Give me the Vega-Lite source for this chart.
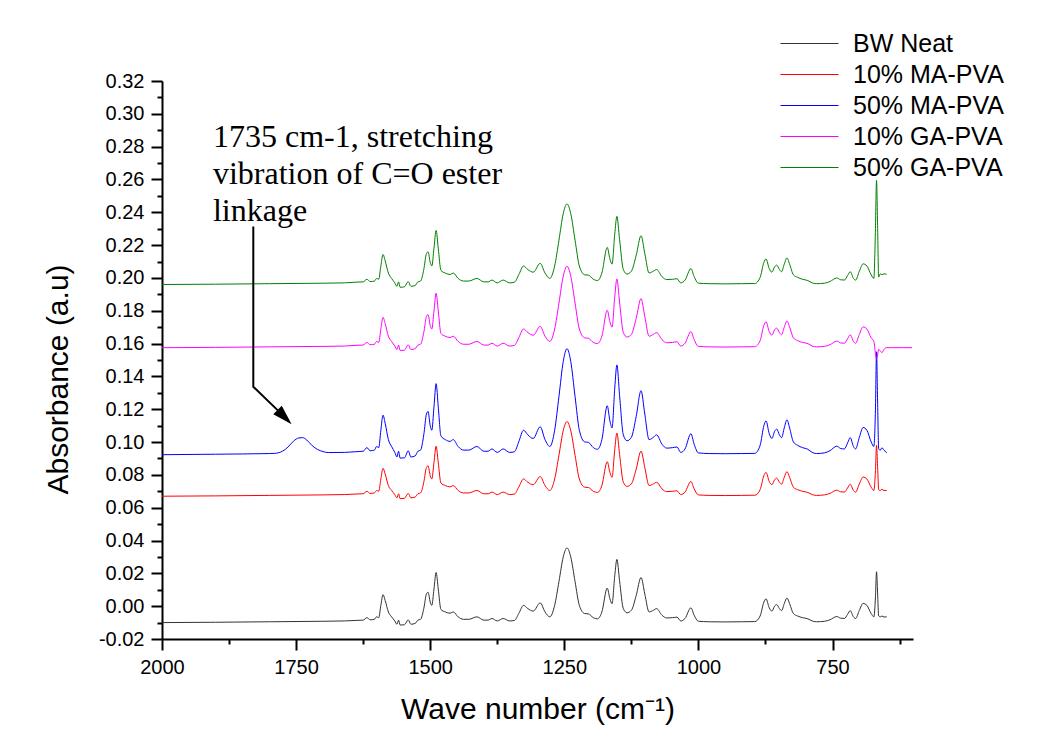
{
"$schema":"https://vega.github.io/schema/vega-lite/v6.json",
"width":751,"height":558,
"autosize":"none",
"padding":{"left":162,"top":81,"right":134,"bottom":101},
"background":"white",
"config":{"view":{"stroke":null},
"axis":{"domainColor":"black","domainWidth":2,"tickColor":"black","tickWidth":2,"labelColor":"black","titleColor":"black","labelFont":"Liberation Sans","titleFont":"Liberation Sans","titleFontWeight":"normal","grid":false,"labelFlush":false,"labelOverlap":false}},
"layer":[
{"data":{"values":[
{"s":"BW Neat","w":2000,"a":-0.0100},{"s":"BW Neat","w":1900,"a":-0.0098},{"s":"BW Neat","w":1800,"a":-0.0095},{"s":"BW Neat","w":1700,"a":-0.0092},{"s":"BW Neat","w":1660,"a":-0.0090},{"s":"BW Neat","w":1640,"a":-0.0087},{"s":"BW Neat","w":1625,"a":-0.0085},{"s":"BW Neat","w":1618,"a":-0.0070},{"s":"BW Neat","w":1612,"a":-0.0083},{"s":"BW Neat","w":1604,"a":-0.0080},{"s":"BW Neat","w":1600,"a":-0.0065},{"s":"BW Neat","w":1596,"a":-0.0070},{"s":"BW Neat","w":1592,"a":0.0005},{"s":"BW Neat","w":1588,"a":0.0070},{"s":"BW Neat","w":1584,"a":0.0035},{"s":"BW Neat","w":1578,"a":-0.0035},{"s":"BW Neat","w":1572,"a":-0.0065},{"s":"BW Neat","w":1566,"a":-0.0090},{"s":"BW Neat","w":1562,"a":-0.0110},{"s":"BW Neat","w":1559,"a":-0.0085},{"s":"BW Neat","w":1556,"a":-0.0115},{"s":"BW Neat","w":1548,"a":-0.0113},{"s":"BW Neat","w":1541,"a":-0.0083},{"s":"BW Neat","w":1536,"a":-0.0110},{"s":"BW Neat","w":1528,"a":-0.0105},{"s":"BW Neat","w":1523,"a":-0.0085},{"s":"BW Neat","w":1518,"a":-0.0080},{"s":"BW Neat","w":1512,"a":-0.0015},{"s":"BW Neat","w":1507,"a":0.0075},{"s":"BW Neat","w":1504,"a":0.0085},{"s":"BW Neat","w":1500,"a":0.0025},{"s":"BW Neat","w":1497,"a":0.0005},{"s":"BW Neat","w":1493,"a":0.0105},{"s":"BW Neat","w":1489,"a":0.0205},{"s":"BW Neat","w":1485,"a":0.0105},{"s":"BW Neat","w":1480,"a":-0.0020},{"s":"BW Neat","w":1472,"a":-0.0035},{"s":"BW Neat","w":1463,"a":-0.0043},{"s":"BW Neat","w":1457,"a":-0.0035},{"s":"BW Neat","w":1448,"a":-0.0065},{"s":"BW Neat","w":1438,"a":-0.0080},{"s":"BW Neat","w":1428,"a":-0.0080},{"s":"BW Neat","w":1413,"a":-0.0065},{"s":"BW Neat","w":1400,"a":-0.0085},{"s":"BW Neat","w":1392,"a":-0.0085},{"s":"BW Neat","w":1385,"a":-0.0075},{"s":"BW Neat","w":1375,"a":-0.0090},{"s":"BW Neat","w":1364,"a":-0.0075},{"s":"BW Neat","w":1352,"a":-0.0090},{"s":"BW Neat","w":1343,"a":-0.0087},{"s":"BW Neat","w":1335,"a":-0.0045},{"s":"BW Neat","w":1326,"a":0.0005},{"s":"BW Neat","w":1318,"a":-0.0015},{"s":"BW Neat","w":1308,"a":-0.0030},{"s":"BW Neat","w":1295,"a":0.0020},{"s":"BW Neat","w":1286,"a":-0.0035},{"s":"BW Neat","w":1277,"a":-0.0065},{"s":"BW Neat","w":1268,"a":0.0005},{"s":"BW Neat","w":1260,"a":0.0150},{"s":"BW Neat","w":1252,"a":0.0300},{"s":"BW Neat","w":1245,"a":0.0355},{"s":"BW Neat","w":1238,"a":0.0300},{"s":"BW Neat","w":1230,"a":0.0150},{"s":"BW Neat","w":1222,"a":0.0005},{"s":"BW Neat","w":1212,"a":-0.0045},{"s":"BW Neat","w":1205,"a":-0.0047},{"s":"BW Neat","w":1196,"a":-0.0070},{"s":"BW Neat","w":1188,"a":-0.0077},{"s":"BW Neat","w":1180,"a":-0.0035},{"s":"BW Neat","w":1170,"a":0.0110},{"s":"BW Neat","w":1165,"a":0.0045},{"s":"BW Neat","w":1161,"a":0.0015},{"s":"BW Neat","w":1156,"a":0.0185},{"s":"BW Neat","w":1152,"a":0.0285},{"s":"BW Neat","w":1147,"a":0.0155},{"s":"BW Neat","w":1140,"a":-0.0015},{"s":"BW Neat","w":1133,"a":-0.0040},{"s":"BW Neat","w":1125,"a":-0.0025},{"s":"BW Neat","w":1116,"a":0.0065},{"s":"BW Neat","w":1107,"a":0.0175},{"s":"BW Neat","w":1100,"a":0.0075},{"s":"BW Neat","w":1092,"a":-0.0035},{"s":"BW Neat","w":1084,"a":-0.0025},{"s":"BW Neat","w":1078,"a":-0.0015},{"s":"BW Neat","w":1068,"a":-0.0055},{"s":"BW Neat","w":1059,"a":-0.0072},{"s":"BW Neat","w":1048,"a":-0.0070},{"s":"BW Neat","w":1040,"a":-0.0067},{"s":"BW Neat","w":1033,"a":-0.0090},{"s":"BW Neat","w":1025,"a":-0.0075},{"s":"BW Neat","w":1014,"a":-0.0010},{"s":"BW Neat","w":1008,"a":-0.0055},{"s":"BW Neat","w":1000,"a":-0.0092},{"s":"BW Neat","w":980,"a":-0.0095},{"s":"BW Neat","w":950,"a":-0.0096},{"s":"BW Neat","w":920,"a":-0.0095},{"s":"BW Neat","w":895,"a":-0.0094},{"s":"BW Neat","w":885,"a":-0.0060},{"s":"BW Neat","w":878,"a":0.0025},{"s":"BW Neat","w":874,"a":0.0045},{"s":"BW Neat","w":868,"a":-0.0010},{"s":"BW Neat","w":863,"a":-0.0030},{"s":"BW Neat","w":858,"a":0.0000},{"s":"BW Neat","w":854,"a":0.0010},{"s":"BW Neat","w":849,"a":-0.0015},{"s":"BW Neat","w":845,"a":-0.0027},{"s":"BW Neat","w":840,"a":0.0015},{"s":"BW Neat","w":835,"a":0.0050},{"s":"BW Neat","w":830,"a":0.0015},{"s":"BW Neat","w":823,"a":-0.0045},{"s":"BW Neat","w":815,"a":-0.0060},{"s":"BW Neat","w":806,"a":-0.0070},{"s":"BW Neat","w":796,"a":-0.0077},{"s":"BW Neat","w":788,"a":-0.0090},{"s":"BW Neat","w":780,"a":-0.0095},{"s":"BW Neat","w":765,"a":-0.0092},{"s":"BW Neat","w":755,"a":-0.0083},{"s":"BW Neat","w":742,"a":-0.0063},{"s":"BW Neat","w":735,"a":-0.0073},{"s":"BW Neat","w":728,"a":-0.0075},{"s":"BW Neat","w":722,"a":-0.0050},{"s":"BW Neat","w":717,"a":-0.0027},{"s":"BW Neat","w":711,"a":-0.0065},{"s":"BW Neat","w":707,"a":-0.0075},{"s":"BW Neat","w":700,"a":-0.0025},{"s":"BW Neat","w":693,"a":0.0017},{"s":"BW Neat","w":686,"a":0.0005},{"s":"BW Neat","w":678,"a":-0.0045},{"s":"BW Neat","w":673,"a":-0.0065},{"s":"BW Neat","w":670,"a":0.0055},{"s":"BW Neat","w":668,"a":0.0210},{"s":"BW Neat","w":666,"a":0.0080},{"s":"BW Neat","w":664,"a":-0.0060},{"s":"BW Neat","w":661,"a":-0.0065},{"s":"BW Neat","w":658,"a":-0.0060},{"s":"BW Neat","w":654,"a":-0.0066},{"s":"BW Neat","w":649,"a":-0.0065},
{"s":"10% MA-PVA","w":2000,"a":0.0670},{"s":"10% MA-PVA","w":1900,"a":0.0672},{"s":"10% MA-PVA","w":1800,"a":0.0675},{"s":"10% MA-PVA","w":1700,"a":0.0678},{"s":"10% MA-PVA","w":1660,"a":0.0680},{"s":"10% MA-PVA","w":1640,"a":0.0683},{"s":"10% MA-PVA","w":1625,"a":0.0685},{"s":"10% MA-PVA","w":1618,"a":0.0700},{"s":"10% MA-PVA","w":1612,"a":0.0687},{"s":"10% MA-PVA","w":1604,"a":0.0690},{"s":"10% MA-PVA","w":1600,"a":0.0705},{"s":"10% MA-PVA","w":1596,"a":0.0700},{"s":"10% MA-PVA","w":1592,"a":0.0775},{"s":"10% MA-PVA","w":1588,"a":0.0840},{"s":"10% MA-PVA","w":1584,"a":0.0805},{"s":"10% MA-PVA","w":1578,"a":0.0735},{"s":"10% MA-PVA","w":1572,"a":0.0705},{"s":"10% MA-PVA","w":1566,"a":0.0680},{"s":"10% MA-PVA","w":1562,"a":0.0660},{"s":"10% MA-PVA","w":1559,"a":0.0685},{"s":"10% MA-PVA","w":1556,"a":0.0655},{"s":"10% MA-PVA","w":1548,"a":0.0657},{"s":"10% MA-PVA","w":1541,"a":0.0687},{"s":"10% MA-PVA","w":1536,"a":0.0660},{"s":"10% MA-PVA","w":1528,"a":0.0665},{"s":"10% MA-PVA","w":1523,"a":0.0685},{"s":"10% MA-PVA","w":1518,"a":0.0690},{"s":"10% MA-PVA","w":1512,"a":0.0755},{"s":"10% MA-PVA","w":1507,"a":0.0845},{"s":"10% MA-PVA","w":1504,"a":0.0855},{"s":"10% MA-PVA","w":1500,"a":0.0795},{"s":"10% MA-PVA","w":1497,"a":0.0775},{"s":"10% MA-PVA","w":1493,"a":0.0875},{"s":"10% MA-PVA","w":1489,"a":0.0975},{"s":"10% MA-PVA","w":1485,"a":0.0875},{"s":"10% MA-PVA","w":1480,"a":0.0750},{"s":"10% MA-PVA","w":1472,"a":0.0735},{"s":"10% MA-PVA","w":1463,"a":0.0727},{"s":"10% MA-PVA","w":1457,"a":0.0735},{"s":"10% MA-PVA","w":1448,"a":0.0705},{"s":"10% MA-PVA","w":1438,"a":0.0690},{"s":"10% MA-PVA","w":1428,"a":0.0690},{"s":"10% MA-PVA","w":1413,"a":0.0705},{"s":"10% MA-PVA","w":1400,"a":0.0685},{"s":"10% MA-PVA","w":1392,"a":0.0685},{"s":"10% MA-PVA","w":1385,"a":0.0695},{"s":"10% MA-PVA","w":1375,"a":0.0680},{"s":"10% MA-PVA","w":1364,"a":0.0695},{"s":"10% MA-PVA","w":1352,"a":0.0680},{"s":"10% MA-PVA","w":1343,"a":0.0683},{"s":"10% MA-PVA","w":1335,"a":0.0725},{"s":"10% MA-PVA","w":1326,"a":0.0775},{"s":"10% MA-PVA","w":1318,"a":0.0755},{"s":"10% MA-PVA","w":1308,"a":0.0740},{"s":"10% MA-PVA","w":1295,"a":0.0790},{"s":"10% MA-PVA","w":1286,"a":0.0735},{"s":"10% MA-PVA","w":1277,"a":0.0705},{"s":"10% MA-PVA","w":1268,"a":0.0775},{"s":"10% MA-PVA","w":1260,"a":0.0920},{"s":"10% MA-PVA","w":1252,"a":0.1070},{"s":"10% MA-PVA","w":1245,"a":0.1125},{"s":"10% MA-PVA","w":1238,"a":0.1070},{"s":"10% MA-PVA","w":1230,"a":0.0920},{"s":"10% MA-PVA","w":1222,"a":0.0775},{"s":"10% MA-PVA","w":1212,"a":0.0725},{"s":"10% MA-PVA","w":1205,"a":0.0723},{"s":"10% MA-PVA","w":1196,"a":0.0700},{"s":"10% MA-PVA","w":1188,"a":0.0693},{"s":"10% MA-PVA","w":1180,"a":0.0735},{"s":"10% MA-PVA","w":1170,"a":0.0880},{"s":"10% MA-PVA","w":1165,"a":0.0815},{"s":"10% MA-PVA","w":1161,"a":0.0785},{"s":"10% MA-PVA","w":1156,"a":0.0955},{"s":"10% MA-PVA","w":1152,"a":0.1055},{"s":"10% MA-PVA","w":1147,"a":0.0925},{"s":"10% MA-PVA","w":1140,"a":0.0755},{"s":"10% MA-PVA","w":1133,"a":0.0730},{"s":"10% MA-PVA","w":1125,"a":0.0745},{"s":"10% MA-PVA","w":1116,"a":0.0835},{"s":"10% MA-PVA","w":1107,"a":0.0945},{"s":"10% MA-PVA","w":1100,"a":0.0845},{"s":"10% MA-PVA","w":1092,"a":0.0735},{"s":"10% MA-PVA","w":1084,"a":0.0745},{"s":"10% MA-PVA","w":1078,"a":0.0755},{"s":"10% MA-PVA","w":1068,"a":0.0715},{"s":"10% MA-PVA","w":1059,"a":0.0698},{"s":"10% MA-PVA","w":1048,"a":0.0700},{"s":"10% MA-PVA","w":1040,"a":0.0703},{"s":"10% MA-PVA","w":1033,"a":0.0680},{"s":"10% MA-PVA","w":1025,"a":0.0695},{"s":"10% MA-PVA","w":1014,"a":0.0760},{"s":"10% MA-PVA","w":1008,"a":0.0715},{"s":"10% MA-PVA","w":1000,"a":0.0678},{"s":"10% MA-PVA","w":980,"a":0.0675},{"s":"10% MA-PVA","w":950,"a":0.0674},{"s":"10% MA-PVA","w":920,"a":0.0675},{"s":"10% MA-PVA","w":895,"a":0.0676},{"s":"10% MA-PVA","w":885,"a":0.0710},{"s":"10% MA-PVA","w":878,"a":0.0795},{"s":"10% MA-PVA","w":874,"a":0.0815},{"s":"10% MA-PVA","w":868,"a":0.0760},{"s":"10% MA-PVA","w":863,"a":0.0740},{"s":"10% MA-PVA","w":858,"a":0.0770},{"s":"10% MA-PVA","w":854,"a":0.0780},{"s":"10% MA-PVA","w":849,"a":0.0755},{"s":"10% MA-PVA","w":845,"a":0.0743},{"s":"10% MA-PVA","w":840,"a":0.0785},{"s":"10% MA-PVA","w":835,"a":0.0820},{"s":"10% MA-PVA","w":830,"a":0.0785},{"s":"10% MA-PVA","w":823,"a":0.0725},{"s":"10% MA-PVA","w":815,"a":0.0710},{"s":"10% MA-PVA","w":806,"a":0.0700},{"s":"10% MA-PVA","w":796,"a":0.0693},{"s":"10% MA-PVA","w":788,"a":0.0680},{"s":"10% MA-PVA","w":780,"a":0.0675},{"s":"10% MA-PVA","w":765,"a":0.0678},{"s":"10% MA-PVA","w":755,"a":0.0687},{"s":"10% MA-PVA","w":742,"a":0.0707},{"s":"10% MA-PVA","w":735,"a":0.0697},{"s":"10% MA-PVA","w":728,"a":0.0695},{"s":"10% MA-PVA","w":722,"a":0.0720},{"s":"10% MA-PVA","w":717,"a":0.0743},{"s":"10% MA-PVA","w":711,"a":0.0705},{"s":"10% MA-PVA","w":707,"a":0.0695},{"s":"10% MA-PVA","w":700,"a":0.0745},{"s":"10% MA-PVA","w":693,"a":0.0787},{"s":"10% MA-PVA","w":686,"a":0.0775},{"s":"10% MA-PVA","w":678,"a":0.0725},{"s":"10% MA-PVA","w":673,"a":0.0705},{"s":"10% MA-PVA","w":670,"a":0.0825},{"s":"10% MA-PVA","w":668,"a":0.0980},{"s":"10% MA-PVA","w":666,"a":0.0850},{"s":"10% MA-PVA","w":664,"a":0.0710},{"s":"10% MA-PVA","w":661,"a":0.0705},{"s":"10% MA-PVA","w":658,"a":0.0712},{"s":"10% MA-PVA","w":654,"a":0.0705},{"s":"10% MA-PVA","w":649,"a":0.0705},
{"s":"50% MA-PVA","w":2000,"a":0.0923},{"s":"50% MA-PVA","w":1900,"a":0.0926},{"s":"50% MA-PVA","w":1800,"a":0.0930},{"s":"50% MA-PVA","w":1790,"a":0.0931},{"s":"50% MA-PVA","w":1775,"a":0.0945},{"s":"50% MA-PVA","w":1765,"a":0.0970},{"s":"50% MA-PVA","w":1755,"a":0.1005},{"s":"50% MA-PVA","w":1745,"a":0.1025},{"s":"50% MA-PVA","w":1738,"a":0.1027},{"s":"50% MA-PVA","w":1730,"a":0.1012},{"s":"50% MA-PVA","w":1720,"a":0.0978},{"s":"50% MA-PVA","w":1710,"a":0.0955},{"s":"50% MA-PVA","w":1700,"a":0.0942},{"s":"50% MA-PVA","w":1690,"a":0.0936},{"s":"50% MA-PVA","w":1660,"a":0.0937},{"s":"50% MA-PVA","w":1640,"a":0.0941},{"s":"50% MA-PVA","w":1625,"a":0.0944},{"s":"50% MA-PVA","w":1618,"a":0.0966},{"s":"50% MA-PVA","w":1612,"a":0.0947},{"s":"50% MA-PVA","w":1604,"a":0.0951},{"s":"50% MA-PVA","w":1600,"a":0.0973},{"s":"50% MA-PVA","w":1596,"a":0.0966},{"s":"50% MA-PVA","w":1592,"a":0.1072},{"s":"50% MA-PVA","w":1588,"a":0.1164},{"s":"50% MA-PVA","w":1584,"a":0.1115},{"s":"50% MA-PVA","w":1578,"a":0.1015},{"s":"50% MA-PVA","w":1572,"a":0.0973},{"s":"50% MA-PVA","w":1566,"a":0.0937},{"s":"50% MA-PVA","w":1562,"a":0.0909},{"s":"50% MA-PVA","w":1559,"a":0.0944},{"s":"50% MA-PVA","w":1556,"a":0.0902},{"s":"50% MA-PVA","w":1548,"a":0.0904},{"s":"50% MA-PVA","w":1541,"a":0.0947},{"s":"50% MA-PVA","w":1536,"a":0.0909},{"s":"50% MA-PVA","w":1528,"a":0.0916},{"s":"50% MA-PVA","w":1523,"a":0.0944},{"s":"50% MA-PVA","w":1518,"a":0.0951},{"s":"50% MA-PVA","w":1512,"a":0.1044},{"s":"50% MA-PVA","w":1507,"a":0.1171},{"s":"50% MA-PVA","w":1504,"a":0.1186},{"s":"50% MA-PVA","w":1500,"a":0.1100},{"s":"50% MA-PVA","w":1497,"a":0.1072},{"s":"50% MA-PVA","w":1493,"a":0.1214},{"s":"50% MA-PVA","w":1489,"a":0.1356},{"s":"50% MA-PVA","w":1485,"a":0.1214},{"s":"50% MA-PVA","w":1480,"a":0.1037},{"s":"50% MA-PVA","w":1472,"a":0.1015},{"s":"50% MA-PVA","w":1463,"a":0.1004},{"s":"50% MA-PVA","w":1457,"a":0.1015},{"s":"50% MA-PVA","w":1448,"a":0.0973},{"s":"50% MA-PVA","w":1438,"a":0.0951},{"s":"50% MA-PVA","w":1428,"a":0.0951},{"s":"50% MA-PVA","w":1413,"a":0.0973},{"s":"50% MA-PVA","w":1400,"a":0.0944},{"s":"50% MA-PVA","w":1392,"a":0.0944},{"s":"50% MA-PVA","w":1385,"a":0.0958},{"s":"50% MA-PVA","w":1375,"a":0.0937},{"s":"50% MA-PVA","w":1364,"a":0.0958},{"s":"50% MA-PVA","w":1352,"a":0.0937},{"s":"50% MA-PVA","w":1343,"a":0.0941},{"s":"50% MA-PVA","w":1335,"a":0.1001},{"s":"50% MA-PVA","w":1326,"a":0.1072},{"s":"50% MA-PVA","w":1318,"a":0.1044},{"s":"50% MA-PVA","w":1308,"a":0.1022},{"s":"50% MA-PVA","w":1295,"a":0.1093},{"s":"50% MA-PVA","w":1286,"a":0.1015},{"s":"50% MA-PVA","w":1277,"a":0.0973},{"s":"50% MA-PVA","w":1268,"a":0.1072},{"s":"50% MA-PVA","w":1260,"a":0.1278},{"s":"50% MA-PVA","w":1252,"a":0.1491},{"s":"50% MA-PVA","w":1245,"a":0.1569},{"s":"50% MA-PVA","w":1238,"a":0.1491},{"s":"50% MA-PVA","w":1230,"a":0.1278},{"s":"50% MA-PVA","w":1222,"a":0.1072},{"s":"50% MA-PVA","w":1212,"a":0.1001},{"s":"50% MA-PVA","w":1205,"a":0.0998},{"s":"50% MA-PVA","w":1196,"a":0.0966},{"s":"50% MA-PVA","w":1188,"a":0.0956},{"s":"50% MA-PVA","w":1180,"a":0.1015},{"s":"50% MA-PVA","w":1170,"a":0.1221},{"s":"50% MA-PVA","w":1165,"a":0.1129},{"s":"50% MA-PVA","w":1161,"a":0.1086},{"s":"50% MA-PVA","w":1156,"a":0.1328},{"s":"50% MA-PVA","w":1152,"a":0.1470},{"s":"50% MA-PVA","w":1147,"a":0.1285},{"s":"50% MA-PVA","w":1140,"a":0.1044},{"s":"50% MA-PVA","w":1133,"a":0.1008},{"s":"50% MA-PVA","w":1125,"a":0.1029},{"s":"50% MA-PVA","w":1116,"a":0.1157},{"s":"50% MA-PVA","w":1107,"a":0.1313},{"s":"50% MA-PVA","w":1100,"a":0.1171},{"s":"50% MA-PVA","w":1092,"a":0.1015},{"s":"50% MA-PVA","w":1084,"a":0.1029},{"s":"50% MA-PVA","w":1078,"a":0.1044},{"s":"50% MA-PVA","w":1068,"a":0.0987},{"s":"50% MA-PVA","w":1059,"a":0.0963},{"s":"50% MA-PVA","w":1048,"a":0.0966},{"s":"50% MA-PVA","w":1040,"a":0.0970},{"s":"50% MA-PVA","w":1033,"a":0.0937},{"s":"50% MA-PVA","w":1025,"a":0.0958},{"s":"50% MA-PVA","w":1014,"a":0.1051},{"s":"50% MA-PVA","w":1008,"a":0.0987},{"s":"50% MA-PVA","w":1000,"a":0.0934},{"s":"50% MA-PVA","w":980,"a":0.0930},{"s":"50% MA-PVA","w":950,"a":0.0929},{"s":"50% MA-PVA","w":920,"a":0.0930},{"s":"50% MA-PVA","w":895,"a":0.0931},{"s":"50% MA-PVA","w":885,"a":0.0980},{"s":"50% MA-PVA","w":878,"a":0.1100},{"s":"50% MA-PVA","w":874,"a":0.1129},{"s":"50% MA-PVA","w":868,"a":0.1051},{"s":"50% MA-PVA","w":863,"a":0.1022},{"s":"50% MA-PVA","w":858,"a":0.1065},{"s":"50% MA-PVA","w":854,"a":0.1079},{"s":"50% MA-PVA","w":849,"a":0.1044},{"s":"50% MA-PVA","w":845,"a":0.1027},{"s":"50% MA-PVA","w":840,"a":0.1086},{"s":"50% MA-PVA","w":835,"a":0.1136},{"s":"50% MA-PVA","w":830,"a":0.1086},{"s":"50% MA-PVA","w":823,"a":0.1001},{"s":"50% MA-PVA","w":815,"a":0.0980},{"s":"50% MA-PVA","w":806,"a":0.0966},{"s":"50% MA-PVA","w":796,"a":0.0956},{"s":"50% MA-PVA","w":788,"a":0.0937},{"s":"50% MA-PVA","w":780,"a":0.0930},{"s":"50% MA-PVA","w":765,"a":0.0934},{"s":"50% MA-PVA","w":755,"a":0.0947},{"s":"50% MA-PVA","w":742,"a":0.0975},{"s":"50% MA-PVA","w":735,"a":0.0961},{"s":"50% MA-PVA","w":728,"a":0.0958},{"s":"50% MA-PVA","w":722,"a":0.0994},{"s":"50% MA-PVA","w":717,"a":0.1027},{"s":"50% MA-PVA","w":711,"a":0.0973},{"s":"50% MA-PVA","w":707,"a":0.0958},{"s":"50% MA-PVA","w":700,"a":0.1029},{"s":"50% MA-PVA","w":693,"a":0.1089},{"s":"50% MA-PVA","w":686,"a":0.1072},{"s":"50% MA-PVA","w":678,"a":0.1001},{"s":"50% MA-PVA","w":673,"a":0.0973},{"s":"50% MA-PVA","w":670,"a":0.1200},{"s":"50% MA-PVA","w":668,"a":0.1550},{"s":"50% MA-PVA","w":666,"a":0.1250},{"s":"50% MA-PVA","w":664,"a":0.0960},{"s":"50% MA-PVA","w":661,"a":0.0950},{"s":"50% MA-PVA","w":658,"a":0.0965},{"s":"50% MA-PVA","w":654,"a":0.0950},{"s":"50% MA-PVA","w":649,"a":0.0935},
{"s":"10% GA-PVA","w":2000,"a":0.1575},{"s":"10% GA-PVA","w":1900,"a":0.1577},{"s":"10% GA-PVA","w":1800,"a":0.1580},{"s":"10% GA-PVA","w":1700,"a":0.1583},{"s":"10% GA-PVA","w":1660,"a":0.1585},{"s":"10% GA-PVA","w":1640,"a":0.1589},{"s":"10% GA-PVA","w":1625,"a":0.1591},{"s":"10% GA-PVA","w":1618,"a":0.1607},{"s":"10% GA-PVA","w":1612,"a":0.1593},{"s":"10% GA-PVA","w":1604,"a":0.1596},{"s":"10% GA-PVA","w":1600,"a":0.1613},{"s":"10% GA-PVA","w":1596,"a":0.1607},{"s":"10% GA-PVA","w":1592,"a":0.1689},{"s":"10% GA-PVA","w":1588,"a":0.1760},{"s":"10% GA-PVA","w":1584,"a":0.1722},{"s":"10% GA-PVA","w":1578,"a":0.1645},{"s":"10% GA-PVA","w":1572,"a":0.1613},{"s":"10% GA-PVA","w":1566,"a":0.1585},{"s":"10% GA-PVA","w":1562,"a":0.1564},{"s":"10% GA-PVA","w":1559,"a":0.1591},{"s":"10% GA-PVA","w":1556,"a":0.1558},{"s":"10% GA-PVA","w":1548,"a":0.1560},{"s":"10% GA-PVA","w":1541,"a":0.1593},{"s":"10% GA-PVA","w":1536,"a":0.1564},{"s":"10% GA-PVA","w":1528,"a":0.1569},{"s":"10% GA-PVA","w":1523,"a":0.1591},{"s":"10% GA-PVA","w":1518,"a":0.1596},{"s":"10% GA-PVA","w":1512,"a":0.1667},{"s":"10% GA-PVA","w":1507,"a":0.1765},{"s":"10% GA-PVA","w":1504,"a":0.1776},{"s":"10% GA-PVA","w":1500,"a":0.1711},{"s":"10% GA-PVA","w":1497,"a":0.1689},{"s":"10% GA-PVA","w":1493,"a":0.1798},{"s":"10% GA-PVA","w":1489,"a":0.1907},{"s":"10% GA-PVA","w":1485,"a":0.1798},{"s":"10% GA-PVA","w":1480,"a":0.1662},{"s":"10% GA-PVA","w":1472,"a":0.1645},{"s":"10% GA-PVA","w":1463,"a":0.1637},{"s":"10% GA-PVA","w":1457,"a":0.1645},{"s":"10% GA-PVA","w":1448,"a":0.1613},{"s":"10% GA-PVA","w":1438,"a":0.1596},{"s":"10% GA-PVA","w":1428,"a":0.1596},{"s":"10% GA-PVA","w":1413,"a":0.1613},{"s":"10% GA-PVA","w":1400,"a":0.1591},{"s":"10% GA-PVA","w":1392,"a":0.1591},{"s":"10% GA-PVA","w":1385,"a":0.1602},{"s":"10% GA-PVA","w":1375,"a":0.1585},{"s":"10% GA-PVA","w":1364,"a":0.1602},{"s":"10% GA-PVA","w":1352,"a":0.1585},{"s":"10% GA-PVA","w":1343,"a":0.1589},{"s":"10% GA-PVA","w":1335,"a":0.1635},{"s":"10% GA-PVA","w":1326,"a":0.1689},{"s":"10% GA-PVA","w":1318,"a":0.1667},{"s":"10% GA-PVA","w":1308,"a":0.1651},{"s":"10% GA-PVA","w":1295,"a":0.1705},{"s":"10% GA-PVA","w":1286,"a":0.1645},{"s":"10% GA-PVA","w":1277,"a":0.1613},{"s":"10% GA-PVA","w":1268,"a":0.1689},{"s":"10% GA-PVA","w":1260,"a":0.1847},{"s":"10% GA-PVA","w":1252,"a":0.2011},{"s":"10% GA-PVA","w":1245,"a":0.2071},{"s":"10% GA-PVA","w":1238,"a":0.2011},{"s":"10% GA-PVA","w":1230,"a":0.1847},{"s":"10% GA-PVA","w":1222,"a":0.1689},{"s":"10% GA-PVA","w":1212,"a":0.1635},{"s":"10% GA-PVA","w":1205,"a":0.1632},{"s":"10% GA-PVA","w":1196,"a":0.1607},{"s":"10% GA-PVA","w":1188,"a":0.1600},{"s":"10% GA-PVA","w":1180,"a":0.1645},{"s":"10% GA-PVA","w":1170,"a":0.1803},{"s":"10% GA-PVA","w":1165,"a":0.1733},{"s":"10% GA-PVA","w":1161,"a":0.1700},{"s":"10% GA-PVA","w":1156,"a":0.1885},{"s":"10% GA-PVA","w":1152,"a":0.1994},{"s":"10% GA-PVA","w":1147,"a":0.1853},{"s":"10% GA-PVA","w":1140,"a":0.1667},{"s":"10% GA-PVA","w":1133,"a":0.1640},{"s":"10% GA-PVA","w":1125,"a":0.1656},{"s":"10% GA-PVA","w":1116,"a":0.1754},{"s":"10% GA-PVA","w":1107,"a":0.1874},{"s":"10% GA-PVA","w":1100,"a":0.1765},{"s":"10% GA-PVA","w":1092,"a":0.1645},{"s":"10% GA-PVA","w":1084,"a":0.1656},{"s":"10% GA-PVA","w":1078,"a":0.1667},{"s":"10% GA-PVA","w":1068,"a":0.1624},{"s":"10% GA-PVA","w":1059,"a":0.1605},{"s":"10% GA-PVA","w":1048,"a":0.1607},{"s":"10% GA-PVA","w":1040,"a":0.1611},{"s":"10% GA-PVA","w":1033,"a":0.1585},{"s":"10% GA-PVA","w":1025,"a":0.1602},{"s":"10% GA-PVA","w":1014,"a":0.1673},{"s":"10% GA-PVA","w":1008,"a":0.1624},{"s":"10% GA-PVA","w":1000,"a":0.1583},{"s":"10% GA-PVA","w":980,"a":0.1580},{"s":"10% GA-PVA","w":950,"a":0.1579},{"s":"10% GA-PVA","w":920,"a":0.1580},{"s":"10% GA-PVA","w":895,"a":0.1581},{"s":"10% GA-PVA","w":885,"a":0.1618},{"s":"10% GA-PVA","w":878,"a":0.1711},{"s":"10% GA-PVA","w":874,"a":0.1733},{"s":"10% GA-PVA","w":868,"a":0.1673},{"s":"10% GA-PVA","w":863,"a":0.1651},{"s":"10% GA-PVA","w":858,"a":0.1684},{"s":"10% GA-PVA","w":854,"a":0.1694},{"s":"10% GA-PVA","w":849,"a":0.1667},{"s":"10% GA-PVA","w":845,"a":0.1654},{"s":"10% GA-PVA","w":840,"a":0.1700},{"s":"10% GA-PVA","w":835,"a":0.1738},{"s":"10% GA-PVA","w":830,"a":0.1700},{"s":"10% GA-PVA","w":823,"a":0.1635},{"s":"10% GA-PVA","w":815,"a":0.1618},{"s":"10% GA-PVA","w":806,"a":0.1607},{"s":"10% GA-PVA","w":796,"a":0.1600},{"s":"10% GA-PVA","w":788,"a":0.1585},{"s":"10% GA-PVA","w":780,"a":0.1580},{"s":"10% GA-PVA","w":765,"a":0.1583},{"s":"10% GA-PVA","w":755,"a":0.1593},{"s":"10% GA-PVA","w":742,"a":0.1615},{"s":"10% GA-PVA","w":735,"a":0.1604},{"s":"10% GA-PVA","w":728,"a":0.1602},{"s":"10% GA-PVA","w":722,"a":0.1629},{"s":"10% GA-PVA","w":717,"a":0.1654},{"s":"10% GA-PVA","w":711,"a":0.1613},{"s":"10% GA-PVA","w":707,"a":0.1602},{"s":"10% GA-PVA","w":700,"a":0.1656},{"s":"10% GA-PVA","w":693,"a":0.1702},{"s":"10% GA-PVA","w":686,"a":0.1689},{"s":"10% GA-PVA","w":678,"a":0.1635},{"s":"10% GA-PVA","w":673,"a":0.1613},{"s":"10% GA-PVA","w":670,"a":0.1540},{"s":"10% GA-PVA","w":668,"a":0.1505},{"s":"10% GA-PVA","w":666,"a":0.1530},{"s":"10% GA-PVA","w":664,"a":0.1565},{"s":"10% GA-PVA","w":661,"a":0.1555},{"s":"10% GA-PVA","w":658,"a":0.1545},{"s":"10% GA-PVA","w":654,"a":0.1565},{"s":"10% GA-PVA","w":649,"a":0.1575},{"s":"10% GA-PVA","w":640,"a":0.1575},{"s":"10% GA-PVA","w":620,"a":0.1575},{"s":"10% GA-PVA","w":602,"a":0.1575},
{"s":"50% GA-PVA","w":2000,"a":0.1960},{"s":"50% GA-PVA","w":1900,"a":0.1962},{"s":"50% GA-PVA","w":1800,"a":0.1965},{"s":"50% GA-PVA","w":1700,"a":0.1968},{"s":"50% GA-PVA","w":1660,"a":0.1970},{"s":"50% GA-PVA","w":1640,"a":0.1974},{"s":"50% GA-PVA","w":1625,"a":0.1976},{"s":"50% GA-PVA","w":1618,"a":0.1992},{"s":"50% GA-PVA","w":1612,"a":0.1978},{"s":"50% GA-PVA","w":1604,"a":0.1981},{"s":"50% GA-PVA","w":1600,"a":0.1997},{"s":"50% GA-PVA","w":1596,"a":0.1992},{"s":"50% GA-PVA","w":1592,"a":0.2073},{"s":"50% GA-PVA","w":1588,"a":0.2143},{"s":"50% GA-PVA","w":1584,"a":0.2105},{"s":"50% GA-PVA","w":1578,"a":0.2030},{"s":"50% GA-PVA","w":1572,"a":0.1997},{"s":"50% GA-PVA","w":1566,"a":0.1970},{"s":"50% GA-PVA","w":1562,"a":0.1949},{"s":"50% GA-PVA","w":1559,"a":0.1976},{"s":"50% GA-PVA","w":1556,"a":0.1943},{"s":"50% GA-PVA","w":1548,"a":0.1946},{"s":"50% GA-PVA","w":1541,"a":0.1978},{"s":"50% GA-PVA","w":1536,"a":0.1949},{"s":"50% GA-PVA","w":1528,"a":0.1954},{"s":"50% GA-PVA","w":1523,"a":0.1976},{"s":"50% GA-PVA","w":1518,"a":0.1981},{"s":"50% GA-PVA","w":1512,"a":0.2051},{"s":"50% GA-PVA","w":1507,"a":0.2149},{"s":"50% GA-PVA","w":1504,"a":0.2159},{"s":"50% GA-PVA","w":1500,"a":0.2095},{"s":"50% GA-PVA","w":1497,"a":0.2073},{"s":"50% GA-PVA","w":1493,"a":0.2181},{"s":"50% GA-PVA","w":1489,"a":0.2289},{"s":"50% GA-PVA","w":1485,"a":0.2181},{"s":"50% GA-PVA","w":1480,"a":0.2046},{"s":"50% GA-PVA","w":1472,"a":0.2030},{"s":"50% GA-PVA","w":1463,"a":0.2021},{"s":"50% GA-PVA","w":1457,"a":0.2030},{"s":"50% GA-PVA","w":1448,"a":0.1997},{"s":"50% GA-PVA","w":1438,"a":0.1981},{"s":"50% GA-PVA","w":1428,"a":0.1981},{"s":"50% GA-PVA","w":1413,"a":0.1997},{"s":"50% GA-PVA","w":1400,"a":0.1976},{"s":"50% GA-PVA","w":1392,"a":0.1976},{"s":"50% GA-PVA","w":1385,"a":0.1987},{"s":"50% GA-PVA","w":1375,"a":0.1970},{"s":"50% GA-PVA","w":1364,"a":0.1987},{"s":"50% GA-PVA","w":1352,"a":0.1970},{"s":"50% GA-PVA","w":1343,"a":0.1974},{"s":"50% GA-PVA","w":1335,"a":0.2019},{"s":"50% GA-PVA","w":1326,"a":0.2073},{"s":"50% GA-PVA","w":1318,"a":0.2051},{"s":"50% GA-PVA","w":1308,"a":0.2035},{"s":"50% GA-PVA","w":1295,"a":0.2089},{"s":"50% GA-PVA","w":1286,"a":0.2030},{"s":"50% GA-PVA","w":1277,"a":0.1997},{"s":"50% GA-PVA","w":1268,"a":0.2073},{"s":"50% GA-PVA","w":1260,"a":0.2230},{"s":"50% GA-PVA","w":1252,"a":0.2392},{"s":"50% GA-PVA","w":1245,"a":0.2451},{"s":"50% GA-PVA","w":1238,"a":0.2392},{"s":"50% GA-PVA","w":1230,"a":0.2230},{"s":"50% GA-PVA","w":1222,"a":0.2073},{"s":"50% GA-PVA","w":1212,"a":0.2019},{"s":"50% GA-PVA","w":1205,"a":0.2017},{"s":"50% GA-PVA","w":1196,"a":0.1992},{"s":"50% GA-PVA","w":1188,"a":0.1984},{"s":"50% GA-PVA","w":1180,"a":0.2030},{"s":"50% GA-PVA","w":1170,"a":0.2186},{"s":"50% GA-PVA","w":1165,"a":0.2116},{"s":"50% GA-PVA","w":1161,"a":0.2084},{"s":"50% GA-PVA","w":1156,"a":0.2267},{"s":"50% GA-PVA","w":1152,"a":0.2375},{"s":"50% GA-PVA","w":1147,"a":0.2235},{"s":"50% GA-PVA","w":1140,"a":0.2051},{"s":"50% GA-PVA","w":1133,"a":0.2024},{"s":"50% GA-PVA","w":1125,"a":0.2041},{"s":"50% GA-PVA","w":1116,"a":0.2138},{"s":"50% GA-PVA","w":1107,"a":0.2257},{"s":"50% GA-PVA","w":1100,"a":0.2149},{"s":"50% GA-PVA","w":1092,"a":0.2030},{"s":"50% GA-PVA","w":1084,"a":0.2041},{"s":"50% GA-PVA","w":1078,"a":0.2051},{"s":"50% GA-PVA","w":1068,"a":0.2008},{"s":"50% GA-PVA","w":1059,"a":0.1990},{"s":"50% GA-PVA","w":1048,"a":0.1992},{"s":"50% GA-PVA","w":1040,"a":0.1995},{"s":"50% GA-PVA","w":1033,"a":0.1970},{"s":"50% GA-PVA","w":1025,"a":0.1987},{"s":"50% GA-PVA","w":1014,"a":0.2057},{"s":"50% GA-PVA","w":1008,"a":0.2008},{"s":"50% GA-PVA","w":1000,"a":0.1968},{"s":"50% GA-PVA","w":980,"a":0.1965},{"s":"50% GA-PVA","w":950,"a":0.1964},{"s":"50% GA-PVA","w":920,"a":0.1965},{"s":"50% GA-PVA","w":895,"a":0.1966},{"s":"50% GA-PVA","w":885,"a":0.2003},{"s":"50% GA-PVA","w":878,"a":0.2095},{"s":"50% GA-PVA","w":874,"a":0.2116},{"s":"50% GA-PVA","w":868,"a":0.2057},{"s":"50% GA-PVA","w":863,"a":0.2035},{"s":"50% GA-PVA","w":858,"a":0.2068},{"s":"50% GA-PVA","w":854,"a":0.2078},{"s":"50% GA-PVA","w":849,"a":0.2051},{"s":"50% GA-PVA","w":845,"a":0.2038},{"s":"50% GA-PVA","w":840,"a":0.2084},{"s":"50% GA-PVA","w":835,"a":0.2122},{"s":"50% GA-PVA","w":830,"a":0.2084},{"s":"50% GA-PVA","w":823,"a":0.2019},{"s":"50% GA-PVA","w":815,"a":0.2003},{"s":"50% GA-PVA","w":806,"a":0.1992},{"s":"50% GA-PVA","w":796,"a":0.1984},{"s":"50% GA-PVA","w":788,"a":0.1970},{"s":"50% GA-PVA","w":780,"a":0.1965},{"s":"50% GA-PVA","w":765,"a":0.1968},{"s":"50% GA-PVA","w":755,"a":0.1978},{"s":"50% GA-PVA","w":742,"a":0.2000},{"s":"50% GA-PVA","w":735,"a":0.1989},{"s":"50% GA-PVA","w":728,"a":0.1987},{"s":"50% GA-PVA","w":722,"a":0.2014},{"s":"50% GA-PVA","w":717,"a":0.2038},{"s":"50% GA-PVA","w":711,"a":0.1997},{"s":"50% GA-PVA","w":707,"a":0.1987},{"s":"50% GA-PVA","w":700,"a":0.2041},{"s":"50% GA-PVA","w":693,"a":0.2086},{"s":"50% GA-PVA","w":686,"a":0.2073},{"s":"50% GA-PVA","w":678,"a":0.2019},{"s":"50% GA-PVA","w":673,"a":0.1997},{"s":"50% GA-PVA","w":670,"a":0.2300},{"s":"50% GA-PVA","w":668,"a":0.2595},{"s":"50% GA-PVA","w":666,"a":0.2320},{"s":"50% GA-PVA","w":664,"a":0.2005},{"s":"50% GA-PVA","w":661,"a":0.2025},{"s":"50% GA-PVA","w":658,"a":0.2020},{"s":"50% GA-PVA","w":654,"a":0.2025},{"s":"50% GA-PVA","w":649,"a":0.2022}
]},
"mark":{"type":"line","interpolate":"monotone","strokeWidth":1},
"encoding":{
"x":{"field":"w","type":"quantitative","scale":{"domain":[600,2000],"reverse":true,"nice":false,"zero":false},
"axis":{"title":"Wave number (cm⁻¹)","values":[2000,1875,1750,1625,1500,1375,1250,1125,1000,875,750,625],"tickCount":40,"format":"d","labelExpr":"datum.value % 250 == 0 ? datum.label : ''","labelOverlap":false,"tickSize":{"condition":{"test":"datum.value % 250 == 0","value":11},"value":5},"labelFontSize":20,"labelPadding":7,"titleFontSize":30,"titleBaseline":"alphabetic","titleY":79}},
"y":{"field":"a","type":"quantitative","scale":{"domain":[-0.02,0.32],"nice":false,"zero":false},
"axis":{"title":"Absorbance (a.u)","values":[-0.02,-0.01,0,0.01,0.02,0.03,0.04,0.05,0.06,0.07,0.08,0.09,0.1,0.11,0.12,0.13,0.14,0.15,0.16,0.17,0.18,0.19,0.2,0.21,0.22,0.23,0.24,0.25,0.26,0.27,0.28,0.29,0.3,0.31,0.32],"tickCount":40,"labelExpr":"abs(round(datum.value*100)) % 2 == 0 ? replace(format(datum.value, '.2f'), '\u2212', '-') : ''","labelOverlap":false,"tickSize":{"condition":{"test":"abs(round(datum.value*100)) % 2 == 0","value":11},"value":5},"labelFontSize":20,"labelPadding":7,"titleFontSize":30,"titleBaseline":"alphabetic","titleX":-95,"titleY":298}},
"color":{"field":"s","type":"nominal","scale":{"domain":["BW Neat","10% MA-PVA","50% MA-PVA","10% GA-PVA","50% GA-PVA"],"range":["#333333","#ff0000","#0000ff","#ff00ff","#008000"]},
"legend":{"orient":"none","legendX":635,"legendY":-50,"title":null,"symbolType":"M-5.8,0H5.8","symbolSize":100,"symbolStrokeWidth":1,"labelFont":"Liberation Sans","labelFontSize":25,"labelColor":"black","labelOffset":31,"rowPadding":5,"padding":0,"labelLimit":300}}
}},
{"data":{"values":[{"w":1829.8,"a":0.2313,"o":1},{"w":1829.8,"a":0.1337,"o":2},{"w":1773,"a":0.1158,"o":3}]},
"mark":{"type":"line","color":"black","strokeWidth":2},
"encoding":{"x":{"field":"w","type":"quantitative"},"y":{"field":"a","type":"quantitative"},"order":{"field":"o","type":"quantitative"}}},
{"data":{"values":[{"w":1771.5,"a":0.1152}]},
"mark":{"type":"point","shape":"M0,-1L-0.6,1L0.6,1Z","size":400,"angle":135,"filled":true,"color":"black","opacity":1},
"encoding":{"x":{"field":"w","type":"quantitative"},"y":{"field":"a","type":"quantitative"}}},
{"data":{"values":[{"w":1905,"a":0.2798,"t":"1735 cm-1, stretching\nvibration of C=O ester\nlinkage"}]},
"mark":{"type":"text","align":"left","baseline":"alphabetic","font":"Liberation Serif","fontSize":32,"lineHeight":37,"lineBreak":"\n","color":"black"},
"encoding":{"x":{"field":"w","type":"quantitative"},"y":{"field":"a","type":"quantitative"},"text":{"field":"t","type":"nominal"}}}
]
}
